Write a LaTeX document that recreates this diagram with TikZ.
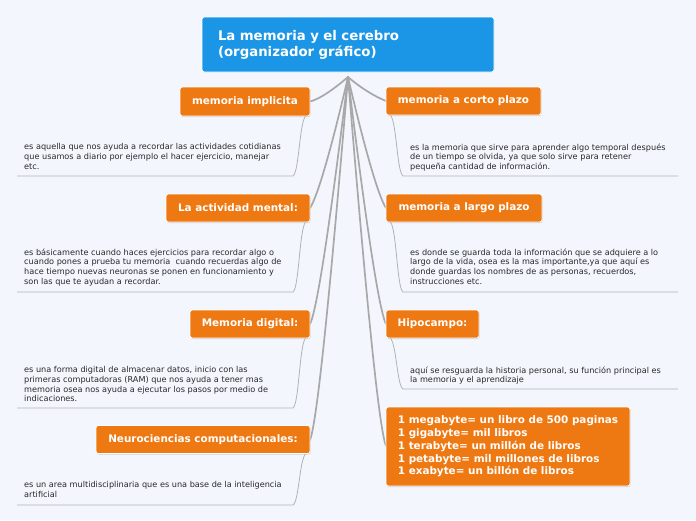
\documentclass[tikz,border=0pt]{standalone}
\usepackage{fontspec}
\setmainfont{DejaVu Sans}
\usetikzlibrary{shadows,calc}
\definecolor{bgc}{RGB}{243,246,253}
\definecolor{orng}{RGB}{238,120,17}
\definecolor{blu}{RGB}{27,150,230}
\definecolor{lnk}{RGB}{168,168,168}
\definecolor{nlnk}{RGB}{178,178,178}
\definecolor{ntxt}{RGB}{40,40,40}
\tikzset{
  topic/.style={fill=orng, draw=white, line width=0.7pt, rounded corners=2.5pt, text=white,
    font=\fontsize{10.4}{12.75}\selectfont\bfseries, inner sep=0pt,
    drop shadow={opacity=0.3, shadow xshift=0.6pt, shadow yshift=-1pt}},
  central/.style={fill=blu, draw=white, line width=0.7pt, rounded corners=2.5pt, text=white,
    font=\fontsize{13.3}{16}\selectfont\bfseries, inner xsep=16pt, inner ysep=0pt, align=left},
  note/.style={anchor=north west, inner sep=0pt, align=left, text=ntxt,
    font=\fontsize{8.15}{9.7}\selectfont},
  branch/.style={draw=lnk, line width=1.7pt, line cap=round},
  nline/.style={draw=nlnk, line width=0.8pt},
}
\begin{document}
\begin{tikzpicture}[x=1pt,y=-1pt]
\useasboundingbox (0,0) rectangle (696,520);
\fill[bgc] (0,0) rectangle (696,520);

\coordinate (root) at (348,77);

% branches (drawn first)
\coordinate (eL1) at (310,101.5);
\coordinate (eL2) at (310,208);
\coordinate (eL3) at (310,324);
\coordinate (eL4) at (310,440);
\coordinate (eR1) at (386,101);
\coordinate (eR2) at (386,208);
\coordinate (eR3) at (386,324);
\coordinate (eR4) at (386,446);

\draw[branch] (root) .. controls (334,89) and (320,99) .. (eL1);
\draw[branch] (root) .. controls (333,142) and (318,196) .. (eL2);
\draw[branch] (root) .. controls (333,200) and (318,308) .. (eL3);
\draw[branch] (root) .. controls (333,258) and (318,420) .. (eL4);
\draw[branch] (root) .. controls (362,89) and (376,97) .. (eR1);
\draw[branch] (root) .. controls (363,142) and (378,196) .. (eR2);
\draw[branch] (root) .. controls (363,200) and (378,308) .. (eR3);
\draw[branch] (root) .. controls (363,261) and (378,426) .. (eR4);

% central
\node[central, minimum width=292pt, minimum height=55pt, text width=260pt] (c) at (348,44.5)
  {La memoria y el cerebro\\(organizador gráfico)};

% left topics
\node[topic, minimum width=130pt, minimum height=29pt] (L1) at (245,101.5) {memoria implicita};
\node[topic, minimum width=144pt, minimum height=28pt] (L2) at (238,208) {La actividad mental:};
\node[topic, minimum width=120pt, minimum height=28pt] (L3) at (250,324) {Memoria digital:};
\node[topic, minimum width=214pt, minimum height=28pt] (L4) at (203,439.5) {Neurociencias computacionales:};

% right topics
\node[topic, minimum width=155pt, minimum height=28pt] (R1) at (463.5,101) {memoria a corto plazo};
\node[topic, minimum width=156pt, minimum height=28pt] (R2) at (464,208) {memoria a largo plazo};
\node[topic, minimum width=93pt, minimum height=28pt] (R3) at (432.5,324) {Hipocampo:};
\node[topic, minimum width=244pt, minimum height=79pt, align=left] (R4) at (508,446.5)
  {1 megabyte= un libro de 500 paginas\\1 gigabyte= mil libros\\1 terabyte= un millón de libros\\1 petabyte= mil millones de libros\\1 exabyte= un billón de libros};

% note underline coordinates
\coordinate (uL1) at (293,176); \coordinate (uL1e) at (17,176);
\coordinate (uL2) at (293,292); \coordinate (uL2e) at (17,292);
\coordinate (uL3) at (293,408); \coordinate (uL3e) at (17,408);
\coordinate (uL4) at (293,505); \coordinate (uL4e) at (17,505);
\coordinate (uR1) at (403,176); \coordinate (uR1e) at (678,176);
\coordinate (uR2) at (403,292); \coordinate (uR2e) at (678,292);
\coordinate (uR3) at (403,389); \coordinate (uR3e) at (678,389);

\foreach \n in {L1,L2,L3,L4}{
  \draw[nline] ($(\n.south east)+(-5,0)$) .. controls +(-6,8) and +(6,-4) .. (u\n) -- (u\n e);
}
\foreach \n in {R1,R2,R3}{
  \draw[nline] ($(\n.south west)+(5,0)$) .. controls +(6,8) and +(-6,-4) .. (u\n) -- (u\n e);
}

% notes
\node[note] (nL1) at (24,143.3) {es aquella que nos ayuda a recordar las actividades cotidianas\\que usamos a diario por ejemplo el hacer ejercicio, manejar\\etc.};
\node[note] (nL2) at (24,248.3) {es básicamente cuando haces ejercicios para recordar algo o\\cuando pones a prueba tu memoria\ \ cuando recuerdas algo de\\hace tiempo nuevas neuronas se ponen en funcionamiento y\\son las que te ayudan a recordar.};
\node[note] (nL3) at (24,366.3) {es una forma digital de almacenar datos, inicio con las\\primeras computadoras (RAM) que nos ayuda a tener mas\\memoria osea nos ayuda a ejecutar los pasos por medio de\\indicaciones.};
\node[note] (nL4) at (24,481.3) {es un area multidisciplinaria que es una base de la inteligencia\\artificial};
\node[note] (nR1) at (410,143.3) {es la memoria que sirve para aprender algo temporal después\\de un tiempo se olvida, ya que solo sirve para retener\\pequeña cantidad de información.};
\node[note] (nR2) at (410,248.3) {es donde se guarda toda la información que se adquiere a lo\\largo de la vida, osea es la mas importante,ya que aquí es\\donde guardas los nombres de as personas, recuerdos,\\instrucciones etc.};
\node[note] (nR3) at (410,366.3) {aquí se resguarda la historia personal, su función principal es\\la memoria y el aprendizaje};
\end{tikzpicture}
\end{document}
